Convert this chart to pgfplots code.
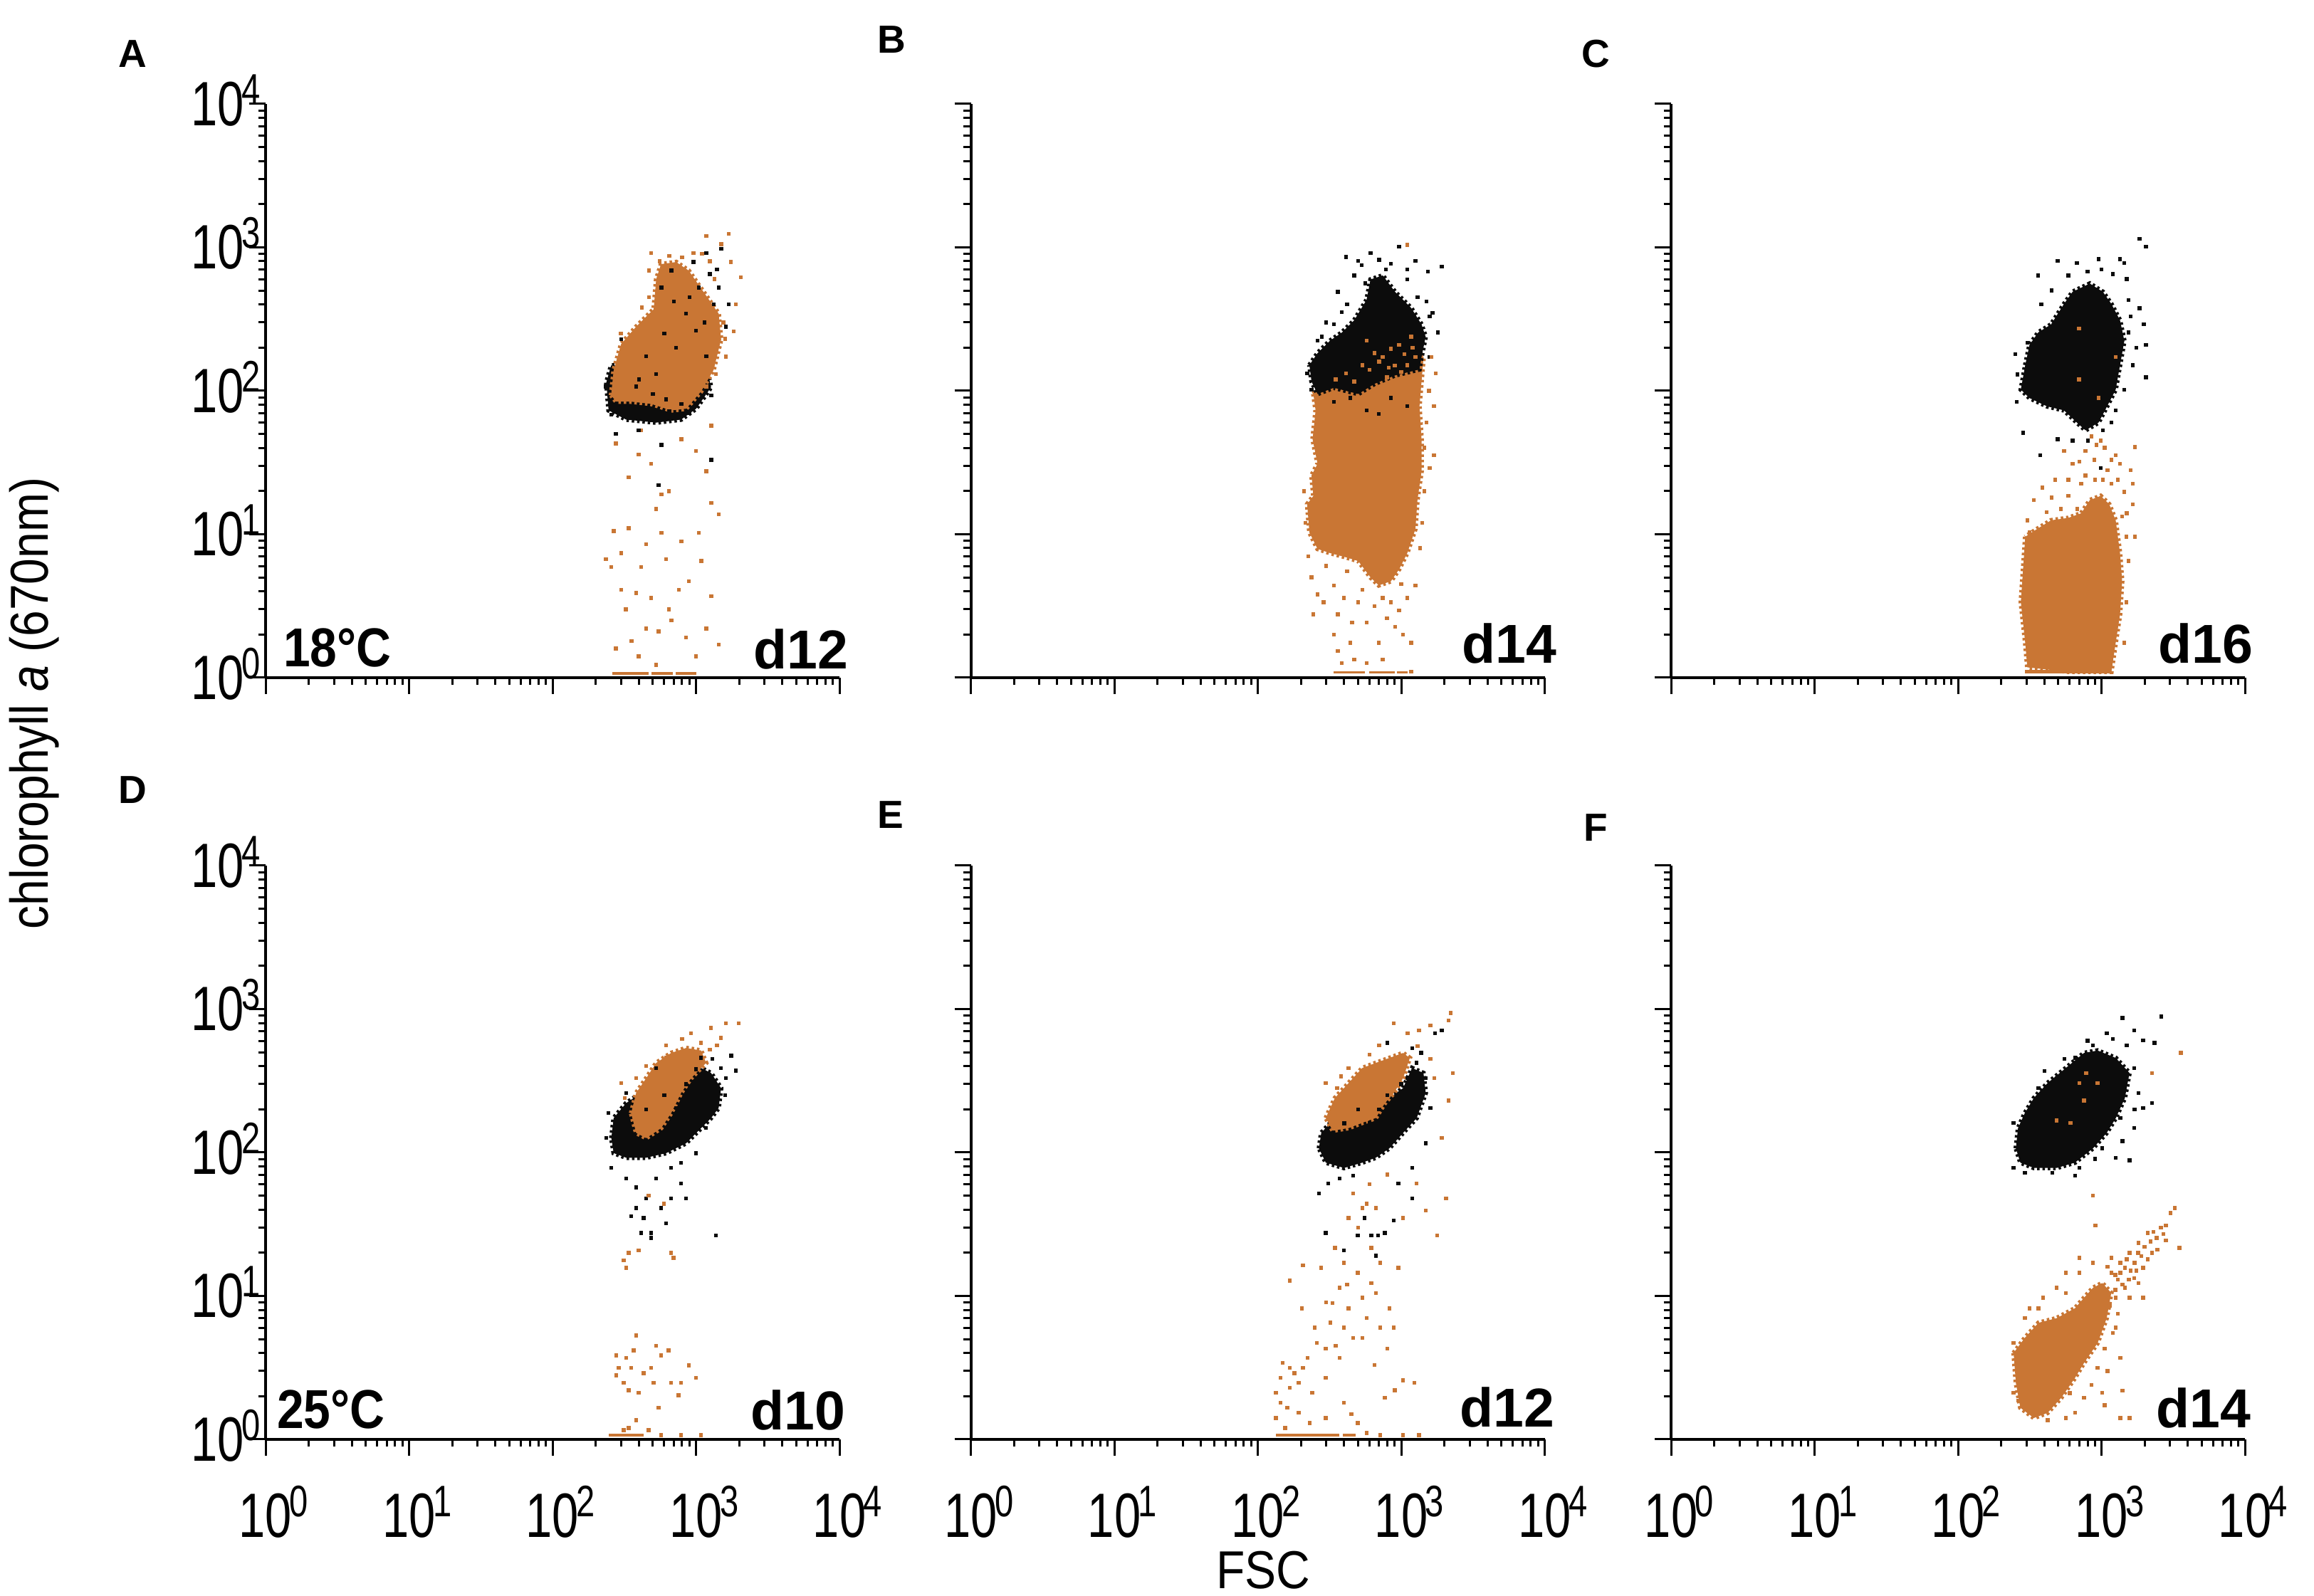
\documentclass[border=0pt]{standalone}
\usepackage{fontspec}
\setmainfont{Liberation Sans}
\newfontfamily\tickfont[FakeStretch=0.76]{Liberation Sans}
\newfontfamily\labfont[FakeStretch=0.88]{Liberation Sans}
\newfontfamily\degfont[FakeStretch=0.88]{Liberation Sans}
\usepackage{pgfplots}
\pgfplotsset{compat=1.18}
\definecolor{orng}{RGB}{201,118,52}
\definecolor{blk}{RGB}{12,12,12}
\newcommand{\ten}[1]{10\rlap{\kern-0.7pt\smash{\raisebox{5.8pt}{\fontsize{12.4}{13}\selectfont #1}}}}
\pgfplotsset{
  pnl/.style={xmin=1, xmax=10000, ymin=1, ymax=10000,
    scale only axis, width=161.2pt, height=161.2pt, anchor=south west,
    axis lines=left, axis line style={-, line width=0.8pt, black},
    tick style={line width=0.6pt, black},
    tick align=outside, major tick length=4.6pt, minor tick length=2.1pt,
    xtick={1,10,100,1000,10000}, ytick={1,10,100,1000,10000},
    minor xtick={2,3,4,5,6,7,8,9,20,30,40,50,60,70,80,90,200,300,400,500,600,700,800,900,2000,3000,4000,5000,6000,7000,8000,9000},
    minor ytick={2,3,4,5,6,7,8,9,20,30,40,50,60,70,80,90,200,300,400,500,600,700,800,900,2000,3000,4000,5000,6000,7000,8000,9000},
    xticklabels={}, yticklabels={},
    tick label style={font=\tickfont\fontsize{17.6}{18}\selectfont},
    xticklabel style={anchor=north, inner sep=0pt, yshift=-10.4pt},
    yticklabel style={anchor=east, inner sep=0pt, xshift=-1.2pt},
    clip=false},
  xlab/.style={xticklabels={\ten0,\ten1,\ten2,\ten3,\ten4}},
  ylab/.style={yticklabels={\ten0,\ten1,\ten2,\ten3,\ten4}},
  dotO/.style={color=orng, only marks, mark=square*, mark size=0.34pt, mark options={draw=none, fill=orng}},
  dotK/.style={color=blk, only marks, mark=square*, mark size=0.34pt, mark options={draw=none, fill=blk}},
  polyO/.style={fill=orng, draw=orng, line width=1.3pt, dash pattern=on 0.7pt off 0.8pt, mark=none},
  polyK/.style={fill=blk, draw=blk, line width=1.3pt, dash pattern=on 0.7pt off 0.8pt, mark=none},
  floorO/.style={orng, line width=0.7pt, mark=none},
}
\begin{document}
\begin{tikzpicture}
\path[use as bounding box] (0,0) rectangle (650pt,448.4pt);
% ---------------- A ----------------
\begin{axis}[xmode=log, ymode=log, pnl, ylab, at={(74.6pt,258pt)}]
\addplot[polyK] coordinates {(237,114) (246,73) (326,63) (528,60) (788,63) (1002,75) (1274,106) (1178,150) (256,150) (237,114)};
\addplot[polyO] coordinates {(256,93) (267,140) (301,212) (383,280) (507,370) (528,600) (571,764) (728,790) (889,689) (1132,487) (1439,345) (1497,228) (1327,140) (1086,99) (853,75) (672,73) (488,81) (353,84) (278,84) (256,93)};
\addplot[dotO] coordinates {(277,43)(339,25)(398,36)(488,31)(646,20)(528,15)(267,10.5)(339,11)(450,8.5)(575,10.2)(790,8.9)(1050,10.2)(1280,16.5)(1440,13.8)(1180,27.5)(1000,38)(790,46)(257,5.9)(302,4.1)(383,3.9)(325,3.0)(488,3.6)(646,3.0)(760,4.1)(890,4.7)(1280,3.7)(1440,1.7)(277,1.6)(355,1.8)(450,2.2)(550,2.1)(675,2.5)(855,1.9)(528,1.23)(398,1.41)(1000,1.41)(302,7.4)(415,5.9)(620,6.7)(1090,6.5)(1180,2.2)(236,6.7)(575,19)(415,53)(1280,57)(1690,1240)(1750,790)(2050,620)(1900,400)(1500,1050)(1180,1200)(960,910)(488,910)(470,690)(1830,260)(1620,173)(1380,131)(1180,107)(1550,300)(1600,230)(1350,600)(1250,800)(1100,900)(800,850)(650,870)(560,800)(470,450)(420,380)(300,250)};
\addplot[dotK] coordinates {(236,107)(257,68)(277,50)(398,53)(575,42)(550,22)(1280,33)(1280,93)(1330,400)(1440,525)(1620,280)(1690,400)(1500,975)(1180,910)(1050,525)(850,345)(725,200)(528,131)(383,107)(620,87)(790,81)(302,229)(575,525)(675,690)(960,790)(1000,263)(1180,174)(450,174)(300,70)(420,66)(700,66)(900,70)(350,78)(650,72)(1400,700)(1250,650)(1150,300)(900,450)(700,420)(600,250)(400,120)(500,95)};
\addplot[floorO] coordinates {(262,1.07)(470,1.07)};
\addplot[floorO] coordinates {(490,1.07)(690,1.07)};
\addplot[floorO] coordinates {(720,1.07)(1000,1.07)};
\end{axis}
% ---------------- B ----------------
\begin{axis}[xmode=log, ymode=log, pnl, at={(272.7pt,258pt)}]
\addplot[polyO] coordinates {(244,95)(253,73)(241,46)(261,31)(237,25.7)(244,18.5)(221,16.2)(229,10.3)(261,7.9)(318,7.4)(413,6.9)(502,6.5)(611,5.0)(697,4.4)(847,4.7)(967,5.7)(1102,7.4)(1256,10.9)(1297,17.3)(1385,27.4)(1385,46)(1340,78)(1385,116)(1432,172)(1256,196)(905,183)(573,172)(386,132)(279,109)(244,95)};
\addplot[polyK] coordinates {(229,151)(261,183)(318,223)(386,255)(470,310)(573,430)(611,597)(743,637)(905,490)(1175,377)(1385,290)(1480,238)(1385,172)(1340,141)(905,128)(653,112)(502,95)(339,105)(261,95)(237,116)(229,151)};
\addplot[dotO] coordinates {(653,183)(743,172)(847,196)(967,209)(1102,151)(413,132)(536,151)(1256,172)(470,116)(1175,238)(794,124)(573,223)(600,140)(900,150)(1000,135)(350,120)(700,160)(820,145)(1050,180)(1200,200)};
\addplot[dotK] coordinates {(413,855)(502,802)(611,914)(967,1008)(1256,802)(1920,736)(1530,680)(470,637)(847,770)(362,490)(386,353)(339,290)(279,238)(261,223)(1800,255)(1580,172)(1580,331)(1102,597)(653,490)(967,430)(221,132)(237,102)(441,89)(573,73)(697,69)(847,89)(1102,78)(339,84)(1300,450)(1100,700)(780,700)(560,560)(420,400)(300,300)(1500,420)(1650,350)(530,750)(700,820)};
\addplot[dotO] coordinates {(237,5.0)(261,3.8)(244,2.76)(288,3.36)(339,4.4)(362,2.76)(339,1.99)(362,1.53)(441,1.75)(470,1.34)(502,3.36)(573,2.42)(653,3.15)(743,3.59)(794,2.59)(905,2.27)(1032,1.99)(1175,1.75)(1256,4.4)(1102,3.59)(967,2.95)(455,2.42)(399,3.59)(536,4.1)(847,3.36)(386,1.26)(573,1.26)(743,1.34)(697,1.75)(1175,1.10)(1630,172)(1740,132)(1690,78)(1690,35.6)(1580,29)(1100,1040)(1500,60)(1560,100)(1450,40)(1450,20)(1400,12)(1350,8)(210,20)(215,12)(225,7)(300,6)(420,5.5)(1000,4.5)};
\addplot[floorO] coordinates {(339,1.09)(560,1.09)};
\addplot[floorO] coordinates {(600,1.09)(900,1.09)};
\addplot[floorO] coordinates {(930,1.09)(1102,1.09)};
\end{axis}
% ---------------- C ----------------
\begin{axis}[xmode=log, ymode=log, pnl, at={(469.4pt,258pt)}]
\addplot[polyK] coordinates {(294,151)(315,209)(362,255)(445,290)(548,403)(629,490)(830,559)(1021,490)(1172,403)(1346,310)(1443,223)(1346,151)(1256,102)(1094,78)(953,60)(774,53)(674,60)(548,73)(416,78)(315,89)(274,102)(294,151)};
\addplot[dotK] coordinates {(256,84)(284,51)(375,35.6)(494,46)(629,45)(802,45)(889,60)(986,29)(1838,1150)(2040,1008)(1346,828)(1443,776)(953,828)(674,776)(494,802)(587,637)(1545,430)(1838,377)(1970,290)(2040,209)(2040,124)(1657,151)(1545,255)(1443,102)(1256,73)(1172,60)(362,637)(304,216)(1021,53)(1200,650)(1000,700)(800,680)(450,500)(380,400)(1600,330)(1750,200)(260,130)(250,180)(1500,600)};
\addplot[dotO] coordinates {(698,272)(698,120)(1256,172)(953,89)};
\addplot[polyO] coordinates {(294,9.6)(284,5.7)(274,3.36)(294,1.75)(304,1.18)(587,1.10)(1172,1.10)(1256,1.75)(1346,2.76)(1393,4.7)(1346,7.4)(1256,12.5)(1132,16.2)(986,18.5)(830,17.3)(722,14)(587,13)(445,12.5)(362,11)(294,9.6)};
\addplot[dotO] coordinates {(548,38)(629,31)(774,25.7)(889,33)(1172,33)(1346,31)(1715,40.6)(1657,22.5)(1657,16.2)(1493,9.6)(1715,9.6)(338,17.3)(388,21.1)(477,24)(587,18.5)(722,22.5)(1021,24)(1172,22.5)(1443,19.7)(1393,13.3)(1545,6.5)(1493,3.36)(1443,1.75)(774,38)(920,42)(986,45)(1256,35.6)(587,24)(416,14.2)(304,12.5)(315,10.3)(450,18)(520,15)(680,15)(900,24)(1100,28)(1300,24)(1500,14)(1600,28)(700,32)(850,48)(1050,40)};
\addplot[floorO, line width=1pt] coordinates {(294,1.10)(1172,1.10)};
\end{axis}
% ---------------- D ----------------
\begin{axis}[xmode=log, ymode=log, pnl, xlab, ylab, at={(74.6pt,44pt)}]
\addplot[polyK] coordinates {(257,126)(267,174)(326,221)(415,260)(572,330)(788,388)(1002,404)(1274,358)(1496,281)(1438,204)(1274,174)(1086,148)(853,116)(620,99)(450,92)(326,92)(267,99)(257,126)};
\addplot[polyO] coordinates {(353,188)(383,260)(450,330)(528,421)(671,494)(853,535)(1086,514)(1177,421)(925,330)(788,260)(671,188)(572,148)(450,126)(383,137)(353,188)};
\addplot[dotK] coordinates {(246,188)(237,126)(257,78)(326,66)(383,57)(450,48)(383,41)(432,35)(487,27.5)(572,41)(620,32)(671,48)(528,66)(671,78)(788,61)(853,48)(1002,99)(788,85)(1380,26.4)(487,25.4)(415,27.5)(353,36)(1620,330)(1900,372)(1757,474)(1496,388)(1086,456)(528,388)(326,260)(301,148)(278,107)(1002,260)(727,204)(925,174)(1177,148)(528,116)(850,300)(1000,380)(600,250)(450,200)(1300,450)(1600,250)};
\addplot[dotO] coordinates {(620,557)(925,680)(1274,738)(1620,798)(1980,798)(1086,580)(1496,628)(301,305)(383,330)(620,456)(326,15.7)(313,17.7)(340,20)(398,20.8)(671,20)(698,18.4)(468,50)(596,44)(278,3.85)(289,3.15)(278,2.79)(313,2.48)(340,2.2)(383,5.3)(368,4.17)(353,3.15)(398,2.11)(432,2.9)(487,3.15)(507,2.48)(528,4.5)(645,4.17)(671,2.48)(757,2.03)(788,2.48)(889,3.28)(1002,2.68)(572,3.85)(326,3.7)(383,1.36)(340,1.2)(572,1.07)(788,1.07)(1086,1.07)(468,1.16)(550,1.66)(313,1.16)(800,620)(1400,560)(450,400)(320,240)(1250,520)};
\addplot[floorO] coordinates {(246,1.07)(430,1.07)};
\end{axis}
% ---------------- E ----------------
\begin{axis}[xmode=log, ymode=log, pnl, xlab, at={(272.7pt,44pt)}]
\addplot[polyK] coordinates {(267,107)(277,137)(345,174)(462,188)(618,174)(827,240)(1030,281)(1191,388)(1429,358)(1482,260)(1282,174)(1030,137)(827,107)(665,92)(535,85)(399,78)(298,85)(267,107)};
\addplot[polyO] coordinates {(298,174)(345,240)(430,305)(535,388)(665,421)(827,456)(1030,494)(1148,456)(1030,330)(889,260)(769,221)(665,174)(535,161)(430,148)(333,142)(298,174)};
\addplot[dotK] coordinates {(574,148)(889,188)(957,240)(1107,330)(1282,421)(1377,494)(1482,330)(1596,204)(1191,535)(798,580)(1482,116)(1191,78)(957,61)(1191,48)(462,69)(371,66)(267,52)(310,61)(555,35)(497,26.4)(618,26.4)(690,26.4)(769,27.5)(399,20.8)(665,19.1)(298,27.5)(889,33.6)(497,99)(1715,680)(1914,708)(700,200)(1000,300)(600,160)(400,160)(500,200)(800,250)(1200,300)};
\addplot[dotO] coordinates {(889,798)(1107,680)(1329,708)(1596,767)(2213,938)(2133,832)(2296,358)(2133,230)(1914,126)(2058,48)(1778,26.4)(1482,39.4)(1282,61)(298,305)(358,281)(430,388)(462,52)(535,41)(430,35)(345,21.6)(399,17)(497,14.5)(618,12.3)(665,10.5)(535,9.7)(430,8.2)(321,6.5)(258,4.7)(207,3.15)(167,2.29)(144,1.8)(134,1.41)(155,1.2)(193,1.53)(240,2.11)(298,2.68)(371,3.7)(462,5.1)(574,7.0)(715,6.0)(827,8.2)(889,6.0)(798,4.3)(1030,2.58)(1236,2.48)(769,1.95)(399,1.8)(298,1.41)(497,1.3)(574,1.11)(715,1.07)(1030,1.07)(1329,1.07)(223,3.7)(193,2.48)(167,3.15)(149,3.41)(144,2.68)(134,2.11)(161,1.66)(399,6.0)(535,5.1)(298,4.3)(371,11.4)(277,15.7)(207,16.3)(167,12.8)(203,8.2)(333,8.9)(618,21.6)(715,17)(957,15.7)(574,44)(665,41)(1030,35)(700,560)(1300,550)(1600,450)(1700,330)(600,480)(380,340)(500,30)(600,60)(800,70)(420,12)(300,9)(250,6)(350,4.5)(650,3.3)(900,2.2)(180,2.9)(230,1.3)(450,1.5)};
\addplot[floorO] coordinates {(134,1.07)(371,1.07)};
\addplot[floorO] coordinates {(390,1.07)(480,1.07)};
\end{axis}
% ---------------- F ----------------
\begin{axis}[xmode=log, ymode=log, pnl, xlab, at={(469.4pt,44pt)}]
\addplot[polyK] coordinates {(253,107)(262,148)(292,188)(338,240)(421,305)(564,388)(755,494)(940,514)(1259,456)(1567,358)(1456,240)(1259,174)(1087,137)(873,107)(653,85)(487,78)(338,78)(272,85)(253,107)};
\addplot[dotK] coordinates {(244,78)(292,72)(453,72)(653,69)(702,78)(1259,92)(1567,88)(1012,107)(1686,148)(1950,204)(2254,221)(2340,580)(1950,603)(1686,708)(1403,865)(2611,887)(1087,680)(873,557)(653,456)(487,330)(364,281)(244,161)(1686,388)(1811,260)(1355,174)(1500,560)(1200,620)(800,600)(550,450)(400,370)(1700,200)(1400,120)(900,90)};
\addplot[dotO] coordinates {(702,305)(783,358)(940,305)(755,230)(607,161)(487,167)(2254,358)(3573,494)};
\addplot[polyO] coordinates {(244,4.0)(292,5.1)(364,6.5)(487,7.0)(653,8.2)(755,9.7)(873,11.4)(1012,12.3)(1170,10.5)(1087,7.0)(940,4.7)(755,3.41)(653,2.68)(524,1.95)(421,1.53)(338,1.41)(272,1.66)(253,2.48)(244,4.0)};
\addplot[dotO] coordinates {(1170,14.5)(1355,17)(1567,20)(1811,23.4)(2099,27.5)(2427,25.4)(2811,31)(3020,37.9)(3251,41)(3497,21.6)(2254,20)(1950,15.7)(1686,13.3)(1456,11.4)(1259,9.7)(1170,18.4)(1456,15.7)(1811,12.3)(1567,9.7)(873,17)(702,18.4)(564,14.5)(873,50)(906,31)(702,14.5)(1259,6.0)(1050,4.3)(940,3.15)(1012,2.11)(1050,1.73)(1355,1.41)(1567,1.41)(1403,2.19)(755,1.95)(653,1.53)(564,1.41)(421,1.36)(315,8.2)(292,7.0)(244,4.7)(244,2.11)(262,1.87)(364,8.2)(392,9.7)(487,11.4)(564,10.5)(1950,9.7)(2811,24.3)(1355,3.7)(1300,13)(1500,18)(1700,17)(2000,22)(2300,28)(1400,12)(1600,15)(1900,19)(2200,24)(2600,30)(1250,14)(1800,20)(1100,16)(1250,11)(1350,14.5)(1550,13)(1750,15)(2100,18)(2450,21)(2700,27)(1150,8.5)(1300,7.5)(1200,5.5)(1100,3)(850,2.4)(600,2.1)(450,1.9)};
\end{axis}
% ---------------- texts ----------------
\node[anchor=base west, inner sep=0pt] at (79.4pt,261pt) {\degfont\bfseries\fontsize{15.4}{16}\selectfont 18°C};
\node[anchor=base east, inner sep=0pt] at (238.4pt,260.4pt) {\bfseries\fontsize{15.4}{16}\selectfont d12};
\node[anchor=base east, inner sep=0pt] at (437.4pt,262pt) {\bfseries\fontsize{15.4}{16}\selectfont d14};
\node[anchor=base east, inner sep=0pt] at (633pt,262pt) {\bfseries\fontsize{15.4}{16}\selectfont d16};
\node[anchor=base west, inner sep=0pt] at (77.6pt,47pt) {\degfont\bfseries\fontsize{15.4}{16}\selectfont 25°C};
\node[anchor=base east, inner sep=0pt] at (237.6pt,46.6pt) {\bfseries\fontsize{15.4}{16}\selectfont d10};
\node[anchor=base east, inner sep=0pt] at (436.8pt,47.4pt) {\bfseries\fontsize{15.4}{16}\selectfont d12};
\node[anchor=base east, inner sep=0pt] at (632.4pt,47.2pt) {\bfseries\fontsize{15.4}{16}\selectfont d14};
\node[anchor=base west, inner sep=0pt] at (33pt,429.4pt) {\bfseries\fontsize{11}{12}\selectfont A};
\node[anchor=base west, inner sep=0pt] at (246.2pt,433.4pt) {\bfseries\fontsize{11}{12}\selectfont B};
\node[anchor=base west, inner sep=0pt] at (444pt,429.4pt) {\bfseries\fontsize{11}{12}\selectfont C};
\node[anchor=base west, inner sep=0pt] at (33pt,222.6pt) {\bfseries\fontsize{11}{12}\selectfont D};
\node[anchor=base west, inner sep=0pt] at (246.2pt,215.6pt) {\bfseries\fontsize{11}{12}\selectfont E};
\node[anchor=base west, inner sep=0pt] at (444.6pt,212pt) {\bfseries\fontsize{11}{12}\selectfont F};
\node[anchor=base, inner sep=0pt] at (354.8pt,2pt) {\labfont\fontsize{15}{16}\selectfont FSC};
\node[anchor=base, rotate=90, inner sep=0pt] at (13.4pt,250.8pt) {\labfont\fontsize{15}{16}\selectfont chlorophyll \textit{a} (670nm)};
\end{tikzpicture}
\end{document}
